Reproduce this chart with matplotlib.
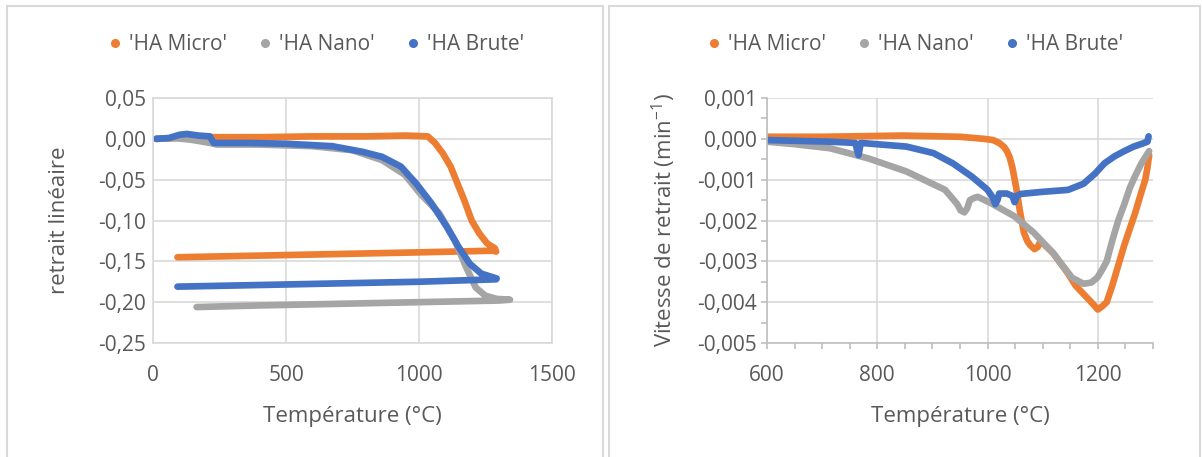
import matplotlib.pyplot as plt
from matplotlib.lines import Line2D
from matplotlib.patches import Rectangle
from matplotlib.ticker import FuncFormatter, MultipleLocator

plt.rcParams['font.family'] = ['Open Sans', 'DejaVu Sans']
plt.rcParams['mathtext.fontset'] = 'custom'
plt.rcParams['mathtext.rm'] = 'Open Sans'

ORANGE = '#ED7D31'
GRAY = '#A5A5A5'
BLUE = '#4472C4'
TXT = '#595959'
GRID = '#D9D9D9'

names = ["'HA Micro'", "'HA Nano'", "'HA Brute'"]

# --- retrait linéaire (chauffe puis refroidissement)
micro_T = [12, 100, 200, 400, 600, 800, 950, 1033, 1060, 1090, 1119, 1145, 1170,
           1198, 1227, 1256, 1285, 1290, 1277, 1000, 700, 400, 92]
micro_v = [0.0, 0.001, 0.002, 0.002, 0.003, 0.003, 0.004, 0.003, -0.005, -0.018,
           -0.034, -0.055, -0.075, -0.100, -0.116, -0.128, -0.134, -0.138,
           -0.137, -0.139, -0.141, -0.143, -0.145]

nano_T = [12, 80, 142, 214, 240, 400, 600, 750, 861, 947, 1004, 1076, 1134, 1177,
          1213, 1249, 1292, 1342, 1300, 1000, 700, 400, 164]
nano_v = [0.0, 0.001, -0.001, -0.005, -0.007, -0.007, -0.009, -0.014, -0.026,
          -0.044, -0.067, -0.091, -0.124, -0.157, -0.182, -0.192, -0.196, -0.197,
          -0.198, -0.200, -0.202, -0.204, -0.206]

brute_T = [12, 60, 100, 128, 170, 214, 228, 350, 501, 674, 789, 861, 932, 990,
           1047, 1105, 1148, 1191, 1234, 1292, 1290, 1000, 700, 400, 92]
brute_v = [0.0, 0.001, 0.005, 0.006, 0.004, 0.003, -0.005, -0.005, -0.006, -0.009,
           -0.016, -0.022, -0.034, -0.055, -0.079, -0.108, -0.132, -0.153, -0.165,
           -0.171, -0.172, -0.175, -0.177, -0.179, -0.181]

# --- vitesse de retrait
micro_rT = [600, 700, 846, 950, 993, 1010, 1021, 1030, 1035, 1040, 1045, 1052, 1059,
            1066, 1072, 1077, 1085, 1091, 1096, 1119, 1146, 1160, 1174, 1188, 1200,
            1208, 1216, 1226, 1237, 1248, 1258, 1268, 1279, 1286, 1290, 1293]
micro_rv = [0.00005, 0.00005, 0.00008, 0.00005, 0.0, -0.00003, -0.0001, -0.0002,
            -0.0003, -0.00045, -0.0007, -0.0012, -0.0018, -0.0023, -0.0025, -0.0026,
            -0.0027, -0.00265, -0.0025, -0.0028, -0.0033, -0.0036, -0.0038, -0.0040,
            -0.00418, -0.0041, -0.0040, -0.0036, -0.0031, -0.0026, -0.0022, -0.0018,
            -0.0013, -0.0010, -0.0007, -0.0004]

nano_rT = [600, 650, 714, 784, 853, 923, 945, 951, 958, 963, 968, 975, 982, 1007,
           1049, 1084, 1119, 1153, 1174, 1188, 1199, 1208, 1216, 1226, 1237, 1248,
           1258, 1268, 1279, 1293]
nano_rv = [-0.00007, -0.00013, -0.00023, -0.00048, -0.0008, -0.00125, -0.0016,
           -0.00175, -0.0018, -0.0017, -0.0015, -0.00145, -0.00142, -0.00158,
           -0.0019, -0.0023, -0.0028, -0.0034, -0.00355, -0.00352, -0.0034, -0.0032,
           -0.0030, -0.0025, -0.0020, -0.0016, -0.0012, -0.0009, -0.0006, -0.0003]

brute_rT = [600, 714, 760, 766, 770, 853, 902, 937, 972, 1000, 1010, 1014, 1018,
            1021, 1035, 1045, 1049, 1053, 1060, 1098, 1146, 1174, 1195, 1212, 1230,
            1248, 1265, 1280, 1290, 1292]
brute_rv = [-0.00003, -0.00007, -0.0001, -0.0004, -0.0001, -0.00019, -0.00035,
            -0.0006, -0.00093, -0.00125, -0.00145, -0.0016, -0.0015, -0.00134,
            -0.00134, -0.0014, -0.00155, -0.0014, -0.00135, -0.0013, -0.00125,
            -0.0011, -0.00085, -0.0006, -0.00043, -0.0003, -0.00019, -0.00012,
            -0.00007, 0.00006]

W, H = 1202, 457
fig = plt.figure(figsize=(W / 100, H / 100), dpi=100)


def box(x0, y0, x1, y1):
    return [x0 / W, 1 - y1 / H, (x1 - x0) / W, (y1 - y0) / H]


# panel frames
for x0, x1 in [(7, 603), (609, 1200)]:
    fig.patches.append(Rectangle((x0 / W, -0.1), (x1 - x0) / W, 1.1 - 6 / H,
                                 transform=fig.transFigure, fill=False,
                                 edgecolor=GRID, lw=1.5))

ax1 = fig.add_axes(box(153, 98, 552, 343))
ax2 = fig.add_axes(box(767, 98, 1153, 343))

lw = 4.8
for ax, data in [(ax1, [(micro_T, micro_v), (nano_T, nano_v), (brute_T, brute_v)]),
                 (ax2, [(micro_rT, micro_rv), (nano_rT, nano_rv), (brute_rT, brute_rv)])]:
    for (t, v), c in zip(data, [ORANGE, GRAY, BLUE]):
        ax.plot(t, v, color=c, lw=lw, solid_capstyle='round',
                solid_joinstyle='round')
    ax.grid(True, color=GRID, lw=1.2)
    ax.set_axisbelow(True)
    for s in ax.spines.values():
        s.set_color(GRID)
        s.set_linewidth(1.2)
    ax.tick_params(axis='y', labelsize=15, colors=TXT, length=0, pad=5)
    ax.tick_params(axis='x', labelsize=15, colors=TXT, length=0, pad=16)
    ax.set_xlabel('Température (°C)', fontsize=16, color=TXT, labelpad=14)
    handles = [Line2D([], [], ls='none', marker='o', ms=5.5, color=c)
               for c in [ORANGE, GRAY, BLUE]]

ax1.set_xlim(0, 1500)
ax1.set_ylim(-0.25, 0.05)
ax1.set_xticks([0, 500, 1000, 1500])
ax1.set_yticks([-0.25, -0.20, -0.15, -0.10, -0.05, 0.0, 0.05])
ax1.yaxis.set_major_formatter(FuncFormatter(lambda v, p: f'{v:.2f}'.replace('.', ',').replace('-0,00', '0,00')))
ax1.set_ylabel('retrait linéaire', fontsize=16, color=TXT, labelpad=20)

ax2.set_xlim(600, 1300)
ax2.set_ylim(-0.005, 0.001)
ax2.set_xticks([600, 800, 1000, 1200])
ax2.set_yticks([-0.005, -0.004, -0.003, -0.002, -0.001, 0.0, 0.001])
ax2.xaxis.set_minor_locator(MultipleLocator(50))
ax2.yaxis.set_minor_locator(MultipleLocator(0.0005))
ax2.tick_params(which='both', direction='out', length=4, color='#BFBFBF', width=1.2)
ax2.tick_params(axis='x', which='major', pad=12)
ax2.tick_params(axis='y', which='major', pad=3)
ax2.spines['top'].set_visible(False)
ax2.spines['right'].set_visible(False)
ax2.spines['left'].set_color('#BFBFBF')
ax2.spines['bottom'].set_color('#BFBFBF')
ax2.yaxis.set_major_formatter(FuncFormatter(lambda v, p: f'{v:.3f}'.replace('.', ',').replace('-0,000', '0,000')))
ax2.set_ylabel('Vitesse de retrait (min$^{-1}$)', fontsize=16, color=TXT, labelpad=14)

for cx in [316 / W, 915 / W]:
    leg = fig.legend(handles, names, loc='center', bbox_to_anchor=(cx, 1 - 45 / H),
                     ncol=3, frameon=False, fontsize=15, handlelength=0.7,
                     handletextpad=0.3, columnspacing=1.5)
    for t in leg.get_texts():
        t.set_color(TXT)

fig.savefig('out.png', dpi=100)
